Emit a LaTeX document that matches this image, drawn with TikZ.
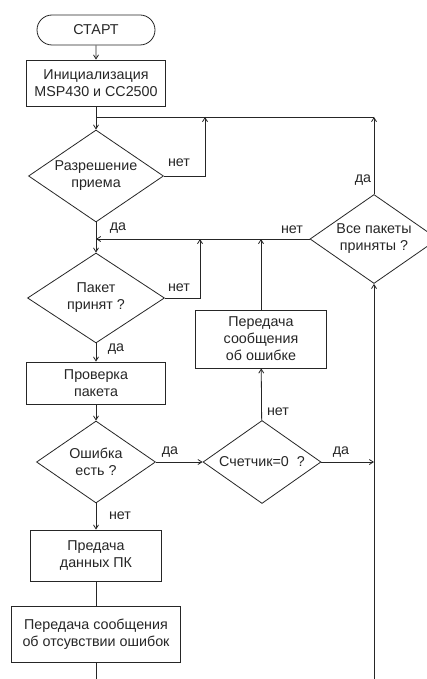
\documentclass[tikz,border=0pt]{standalone}
\usepackage{fontspec}
\setmainfont{Liberation Sans}
\usetikzlibrary{shapes.geometric,shapes.misc,arrows.meta}
\begin{document}
\begin{tikzpicture}[x=1pt,y=-1pt]
\tikzset{
 base/.style={draw=black!85, line width=0.8pt, font=\fontsize{14.3}{17}\selectfont, text=black!85, align=center, inner sep=0pt},
 term/.style={base, rounded rectangle, minimum width=118pt, minimum height=30pt},
 proc/.style={base, rectangle},
 dec/.style={base, diamond, aspect=1.45},
 lab/.style={font=\fontsize{14.3}{17}\selectfont, text=black!85, inner sep=0pt},
 flow/.style={draw=black!85, line width=0.8pt, -{Straight Barb[length=4pt,width=5pt]}},
 plain/.style={draw=black!85, line width=0.8pt},
}
\useasboundingbox (0,0) rectangle (427,679);
\clip (0,0) rectangle (427,679);
\fill[white] (0,0) rectangle (427,679);
% nodes
\node[term] (start) at (96,30) {СТАРТ};
\node[proc, minimum width=139pt, minimum height=46pt] (init) at (96,83) {Инициализация\\MSP430 и CC2500};
\node[dec, minimum width=135pt, minimum height=92pt] (d1) at (96,176) {Разрешение\\приема};
\node[dec, minimum width=137pt, minimum height=90pt] (d2) at (96,298) {Пакет\\принят ?};
\node[proc, minimum width=139pt, minimum height=42pt] (chk) at (96,383) {Проверка\\пакета};
\node[dec, minimum width=119pt, minimum height=82pt] (d3) at (96,462) {Ошибка\\есть ?};
\node[dec, minimum width=118pt, minimum height=83pt] (d4) at (262,462) {Счетчик=0\ \ ?};
\node[proc, minimum width=131pt, minimum height=58pt] (err) at (261,339) {Передача\\сообщения\\об ошибке};
\node[dec, minimum width=128pt, minimum height=89pt] (d5) at (374,239) {Все пакеты\\приняты ?};
\node[proc, minimum width=131pt, minimum height=51pt] (pc) at (96,555.5) {Предача\\данных ПК};
\node[proc, minimum width=169pt, minimum height=56pt] (ok) at (96,634) {Передача сообщения\\об отсувствии ошибок};
% junction coordinates
\coordinate (j1) at (96,117);
\coordinate (r1) at (205,117);
\coordinate (t5) at (374,117);
\coordinate (j2) at (96,239);
\coordinate (r2) at (200,239);
\coordinate (r4) at (374,462);
\coordinate (bl) at (96,679);
\coordinate (br) at (374,679);
% connectors
\draw[flow] (start) -- (init);
\draw[flow] (init) -- (d1);
\draw[plain] (j1) -- (t5);
\draw[flow] (d1.east) -| (r1);
\draw[flow] (d5.north) -- (t5);
\draw[flow] (d1) -- (d2);
\draw[flow] (d5.west) -- (j2);
\draw[flow] (d2.east) -| (r2);
\draw[flow] (err.north) -- (err.north |- j2);
\draw[flow] (d2) -- (chk);
\draw[flow] (chk) -- (d3);
\draw[flow] (d3) -- (d4);
\draw[flow] (d4) -- (err);
\draw[flow] (d4.east) -- (r4);
\draw[flow] (d3) -- (pc);
\draw[plain] (pc) -- (ok);
\draw[plain] (ok) -- (bl);
\draw[flow] (br) -- (d5.south);
% labels
\node[lab] (l1n) at (179,163) {нет};
\node[lab] (l1y) at (118,228) {да};
\node[lab] (l2n) at (179,288) {нет};
\node[lab] (l2y) at (116,349) {да};
\node[lab] (l3y) at (170,452) {да};
\node[lab] (l3n) at (120,516) {нет};
\node[lab] (l4n) at (278,412) {нет};
\node[lab] (l4y) at (341,452) {да};
\node[lab] (l5n) at (292,230) {нет};
\node[lab] (l5y) at (363,180) {да};
\end{tikzpicture}
\end{document}
